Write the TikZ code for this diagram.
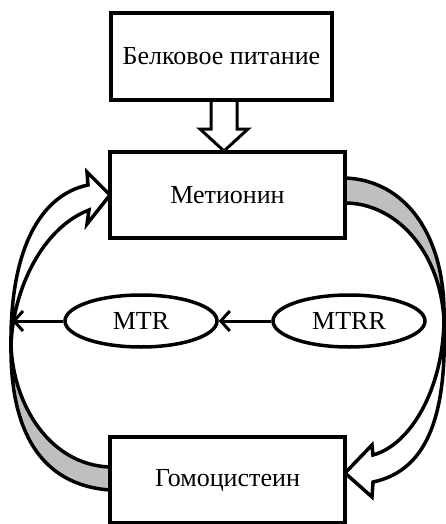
\documentclass[tikz,border=0pt]{standalone}
\usepackage{fontspec}
\setmainfont{Liberation Serif}
\usetikzlibrary{calc,arrows.meta,shapes.geometric}
\begin{document}
\begin{tikzpicture}[x=1pt,y=-1pt,
  txt/.style={font=\fontsize{26}{30}\selectfont},
  box/.style={txt,draw,fill=white,line width=3.5pt,minimum width=235pt,minimum height=86pt,inner sep=0pt},
  enz/.style={txt,draw,fill=white,ellipse,line width=3.5pt,minimum width=152pt,minimum height=52pt,inner sep=0pt},
  band/.style={draw,line width=3.5pt,line join=miter,miter limit=4},
  conn/.style={line width=3pt,-{Straight Barb[length=9pt,width=20pt]}},
  hollow/.style={draw,fill=white,line width=3pt,line join=miter}
]
\useasboundingbox (0,0) rectangle (446,524);

% left curved arrow (Гомоцистеин -> Метионин)
\coordinate (XL) at (11,345);
\path[band,fill=white] (XL) .. controls (10,250) and (40,195) .. (88,185) -- (87,172) -- (110,195) -- (87,224) -- (89,210) .. controls (42,228) and (13,290) .. (XL) -- cycle;
\path[band,fill=black!25] (XL) .. controls (10,430) and (40,485) .. (110,490) -- (110,467) .. controls (50,465) and (13,405) .. (XL) -- cycle;

% right curved arrow (Метионин -> Гомоцистеин)
\coordinate (XR) at (444,320);
\path[band,fill=black!25] (345,178) .. controls (405,180) and (446,235) .. (XR) .. controls (440,250) and (395,203) .. (345,203) -- cycle;
\path[band,fill=white] (XR) .. controls (447,410) and (430,470) .. (373,482) -- (372,497) -- (345,473) -- (372,445) -- (373,455) .. controls (410,445) and (443,390) .. (XR) -- cycle;

% hollow arrow from top box to Метионин
\path[hollow] (211,98) -- (211,129) -- (200,129) -- (224,151) -- (248,129) -- (237,129) -- (237,98);

% boxes
\node[box,minimum width=221pt,minimum height=87pt] (pit) at (221.5,56.5) {Белковое питание};
\node[box] (met) at (227.5,195) {Метионин};
\node[box] (hom) at (227.5,480) {Гомоцистеин};

% enzymes
\node[enz] (mtr) at (141,321) {MTR};
\node[enz] (mtrr) at (349,321) {MTRR};
\coordinate (tipL) at (12,321);
\draw[conn] (mtrr) -- (mtr);
\draw[conn] (mtr) -- (tipL);
\end{tikzpicture}
\end{document}
